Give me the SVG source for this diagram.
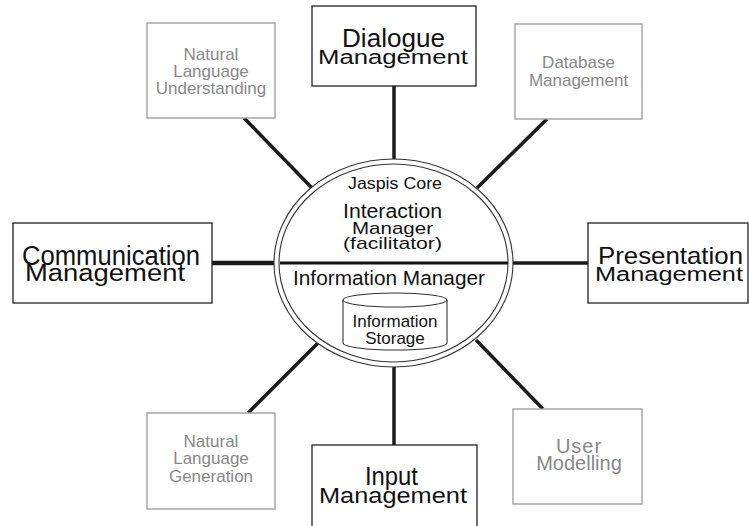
<svg xmlns="http://www.w3.org/2000/svg" width="749" height="526" viewBox="0 0 749 526">
<style>
.bb{fill:#fff;stroke:#222;stroke-width:1.3}
.gb{fill:#fff;stroke:#999;stroke-width:1.3}
.bt{font-family:"Liberation Sans",Arial,sans-serif;fill:#111}
.gt{font-family:"Liberation Sans",Arial,sans-serif;fill:#888;font-size:17px;text-anchor:middle}
.ct{font-family:"Liberation Sans",Arial,sans-serif;fill:#111}
.cn{stroke:#1a1a1a;stroke-width:3.5;fill:none}
</style>
<rect width="749" height="526" fill="#fff"/>
<g id="connectors">
<line class="cn" x1="394" y1="86" x2="394" y2="160"/>
<line class="cn" x1="244" y1="118" x2="312" y2="188"/>
<line class="cn" x1="547" y1="119" x2="477" y2="188"/>
<line class="cn" x1="212" y1="263" x2="275" y2="263" style="stroke-width:4.5"/>
<line class="cn" x1="512" y1="263" x2="588" y2="263"/>
<line class="cn" x1="248" y1="413" x2="318" y2="343"/>
<line class="cn" x1="476" y1="340" x2="543" y2="409"/>
<line class="cn" x1="394" y1="366" x2="394" y2="445"/>
</g>
<g id="core">
<ellipse cx="393.5" cy="263" rx="119.5" ry="104" fill="#fff" stroke="#333" stroke-width="1.1"/>
<ellipse cx="393.5" cy="263" rx="114.5" ry="99" fill="#fff" stroke="#333" stroke-width="1.1"/>
<line x1="280" y1="263" x2="508" y2="263" stroke="#111" stroke-width="3"/>
<text class="ct" x="348" y="189" font-size="16" textLength="94" lengthAdjust="spacingAndGlyphs">Jaspis Core</text>
<text class="ct" x="343" y="218" font-size="20" textLength="99" lengthAdjust="spacingAndGlyphs">Interaction</text>
<text class="ct" x="352" y="234" font-size="17" textLength="81" lengthAdjust="spacingAndGlyphs">Manager</text>
<text class="ct" x="343" y="249" font-size="17" textLength="99" lengthAdjust="spacingAndGlyphs">(facilitator)</text>
<text class="ct" x="293" y="285" font-size="20.5" textLength="192" lengthAdjust="spacingAndGlyphs">Information Manager</text>
</g>
<g id="storage">
<path d="M343,300 L343,343 A52,7 0 0 0 447,343 L447,300" fill="#fff" stroke="#333" stroke-width="1.1"/>
<ellipse cx="395" cy="300" rx="52" ry="7" fill="#fff" stroke="#333" stroke-width="1.1"/>
<text class="ct" x="395" y="327" font-size="17" text-anchor="middle">Information</text>
<text class="ct" x="395" y="344" font-size="17" text-anchor="middle">Storage</text>
</g>
<g id="nlu">
<rect class="gb" x="147" y="23" width="128" height="95"/>
<text class="gt" x="211" y="60">Natural</text>
<text class="gt" x="211" y="77">Language</text>
<text class="gt" x="211" y="94">Understanding</text>
</g>
<g id="dialogue">
<rect class="bb" x="312" y="6" width="164" height="80"/>
<text class="bt" x="342" y="47" font-size="25" textLength="103" lengthAdjust="spacingAndGlyphs">Dialogue</text>
<text class="bt" x="318" y="64" font-size="20" textLength="150" lengthAdjust="spacingAndGlyphs">Management</text>
</g>
<g id="database">
<rect class="gb" x="515" y="24" width="127" height="95"/>
<text class="gt" x="578.5" y="68">Database</text>
<text class="gt" x="578.5" y="86">Management</text>
</g>
<g id="communication">
<rect class="bb" x="13" y="223" width="199" height="80"/>
<text class="bt" x="22" y="265" font-size="27" textLength="178" lengthAdjust="spacingAndGlyphs">Communication</text>
<text class="bt" x="25" y="281" font-size="23" textLength="160" lengthAdjust="spacingAndGlyphs">Management</text>
</g>
<g id="presentation">
<rect class="bb" x="588" y="223" width="160" height="80"/>
<text class="bt" x="598" y="264" font-size="24" textLength="145" lengthAdjust="spacingAndGlyphs">Presentation</text>
<text class="bt" x="595" y="281" font-size="20" textLength="148" lengthAdjust="spacingAndGlyphs">Management</text>
</g>
<g id="nlg">
<rect class="gb" x="147" y="413" width="128" height="96"/>
<text class="gt" x="211" y="447">Natural</text>
<text class="gt" x="211" y="464">Language</text>
<text class="gt" x="211" y="482">Generation</text>
</g>
<g id="input">
<rect class="bb" x="312" y="445" width="165" height="90"/>
<text class="bt" x="365" y="485" font-size="25" textLength="53" lengthAdjust="spacingAndGlyphs">Input</text>
<text class="bt" x="319" y="503" font-size="22" textLength="148" lengthAdjust="spacingAndGlyphs">Management</text>
</g>
<g id="user">
<rect class="gb" x="513" y="409" width="129" height="95"/>
<text class="gt" x="579" y="453" font-size="20" style="font-size:20px;letter-spacing:1px">User</text>
<text class="gt" x="579" y="470" style="font-size:20px">Modelling</text>
</g>
</svg>
